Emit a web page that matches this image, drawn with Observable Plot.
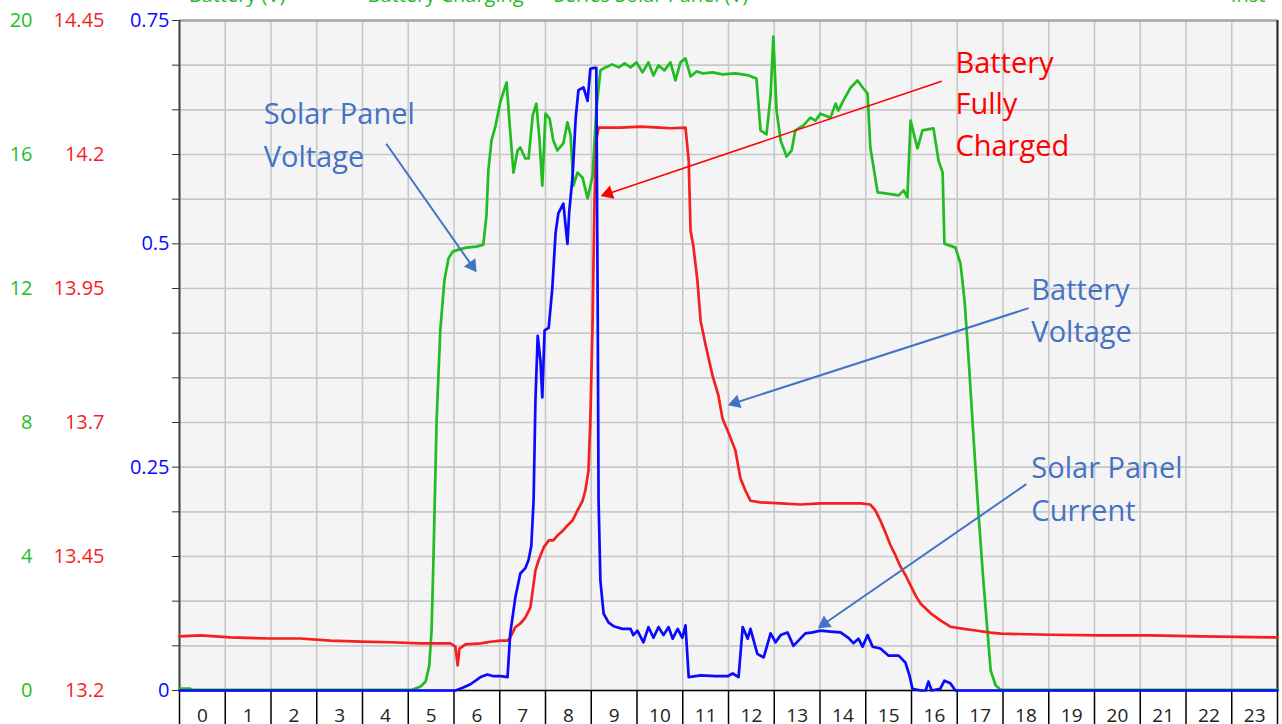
<!DOCTYPE html>
<html>
<head>
<meta charset="utf-8">
<script src="https://cdn.jsdelivr.net/npm/d3@7"></script>
<script src="https://cdn.jsdelivr.net/npm/@observablehq/plot@0.6"></script>
<style>
  html, body { margin: 0; padding: 0; background: #fff; overflow: hidden; }
  #chart svg { display: block; }
</style>
</head>
<body>
<div id="chart"></div>
<script>
// ---------- data ----------
// Solar panel voltage (V), green, left axis 0..20
const greenHours = [0,0.22,0.28,5.09,5.27,5.38,5.46,5.51,5.55,5.62,5.70,5.79,5.88,5.97,6.10,6.27,6.49,6.64,6.71,6.75,6.82,6.91,7.02,7.15,7.21,7.30,7.39,7.45,7.56,7.63,7.72,7.80,7.87,7.93,8.00,8.09,8.17,8.26,8.39,8.48,8.55,8.61,8.70,8.81,8.92,9.03,9.11,9.20,9.31,9.46,9.60,9.73,9.86,9.99,10.12,10.25,10.36,10.47,10.60,10.73,10.84,10.95,11.06,11.17,11.30,11.45,11.65,11.87,12.15,12.44,12.61,12.70,12.83,12.92,12.98,13.05,13.14,13.27,13.38,13.46,13.64,13.79,13.90,14.01,14.23,14.34,14.40,14.51,14.67,14.82,14.95,15.04,15.10,15.26,15.43,15.72,15.83,15.91,15.98,16.13,16.24,16.48,16.59,16.68,16.72,16.96,17.07,17.16,17.25,17.36,17.46,17.57,17.66,17.73,17.84,17.95,24];
const greenVolts = [0.06,0.06,0.02,0.02,0.12,0.27,0.75,1.79,3.88,8.06,10.75,12.24,12.90,13.10,13.16,13.22,13.25,13.31,14.18,15.52,16.42,16.87,17.61,18.15,17.01,15.46,16.12,16.21,15.88,15.88,17.16,17.52,16.42,15.07,17.22,17.07,16.42,16.12,16.33,16.96,16.57,15.07,15.46,15.31,14.69,15.37,17.31,18.51,18.60,18.69,18.60,18.72,18.60,18.75,18.45,18.75,18.36,18.66,18.51,18.75,18.21,18.75,18.87,18.33,18.48,18.42,18.45,18.39,18.42,18.36,18.27,16.72,16.60,17.76,19.52,17.31,16.42,15.94,16.12,16.72,16.87,17.10,17.01,17.22,17.10,17.52,17.31,17.61,18.00,18.21,17.97,17.82,16.21,14.87,14.84,14.78,14.93,14.72,17.01,16.18,16.72,16.78,15.82,15.46,13.34,13.22,12.75,11.64,9.85,7.46,5.37,3.28,1.79,0.60,0.15,0.02,0.02];

// Battery voltage (V), red, left axis 13.2..14.45
const redHours = [0,0.46,1.11,1.99,2.64,3.30,3.96,4.61,5.27,5.92,6.03,6.08,6.12,6.25,6.58,6.80,7.02,7.17,7.23,7.34,7.45,7.56,7.67,7.78,7.85,7.96,8.07,8.17,8.26,8.39,8.48,8.59,8.70,8.81,8.87,8.94,8.98,9.03,9.07,9.11,9.16,9.64,10.08,10.51,10.73,11.06,11.13,11.17,11.23,11.32,11.39,11.50,11.65,11.78,11.87,12.00,12.15,12.26,12.37,12.48,12.70,13.14,13.57,14.01,14.45,14.89,15.10,15.21,15.32,15.43,15.54,15.65,15.76,15.87,15.98,16.09,16.20,16.42,16.63,16.85,17.07,17.40,17.73,17.95,19.04,20.13,21.22,22.32,24];
const redVolts = [13.301,13.303,13.299,13.297,13.297,13.293,13.291,13.290,13.288,13.288,13.282,13.247,13.278,13.286,13.288,13.291,13.293,13.293,13.299,13.318,13.325,13.336,13.355,13.424,13.443,13.467,13.480,13.480,13.489,13.499,13.508,13.517,13.536,13.554,13.573,13.610,13.704,13.890,14.114,14.226,14.250,14.250,14.252,14.250,14.249,14.250,14.189,14.058,14.030,13.965,13.890,13.844,13.788,13.750,13.707,13.681,13.648,13.596,13.573,13.554,13.551,13.549,13.547,13.549,13.549,13.549,13.547,13.536,13.517,13.495,13.471,13.452,13.431,13.415,13.396,13.377,13.362,13.344,13.331,13.319,13.316,13.312,13.308,13.306,13.304,13.303,13.303,13.301,13.299];

// Solar panel current (A), blue, left axis 0..0.75
const blueHours = [0,6.03,6.19,6.36,6.58,6.73,6.86,7.02,7.17,7.23,7.34,7.45,7.56,7.63,7.69,7.74,7.78,7.83,7.89,7.93,7.98,8.07,8.15,8.22,8.28,8.39,8.48,8.52,8.59,8.66,8.72,8.83,8.92,8.98,9.07,9.11,9.14,9.16,9.20,9.27,9.38,9.49,9.68,9.86,9.92,10.01,10.14,10.25,10.36,10.47,10.58,10.69,10.78,10.89,10.99,11.06,11.13,11.39,11.72,11.98,12.09,12.22,12.31,12.42,12.48,12.63,12.77,12.92,13.03,13.14,13.29,13.42,13.57,13.68,13.84,14.01,14.23,14.45,14.62,14.73,14.84,14.93,15.04,15.15,15.32,15.50,15.72,15.87,15.96,16.02,16.20,16.31,16.37,16.44,16.63,16.72,16.85,16.96,24];
const blueAmps = [0,0,0.003,0.007,0.015,0.018,0.016,0.016,0.015,0.064,0.104,0.131,0.137,0.146,0.162,0.213,0.325,0.397,0.369,0.328,0.403,0.406,0.451,0.512,0.534,0.545,0.500,0.537,0.574,0.641,0.672,0.675,0.660,0.696,0.697,0.697,0.437,0.213,0.123,0.086,0.076,0.072,0.069,0.069,0.062,0.067,0.054,0.071,0.059,0.071,0.062,0.071,0.058,0.069,0.059,0.073,0.015,0.017,0.016,0.016,0.019,0.015,0.071,0.058,0.069,0.041,0.037,0.064,0.054,0.062,0.065,0.050,0.058,0.064,0.065,0.067,0.066,0.065,0.059,0.053,0.058,0.049,0.062,0.049,0.047,0.039,0.039,0.031,0.016,0.002,0,0,0.010,0,0.002,0.011,0.008,0,0];

// axes / ticks
const hourLabels = ["0","1","2","3","4","5","6","7","8","9","10","11","12","13","14","15","16","17","18","19","20","21","22","23"];
const hourGrid = [0,1,2,3,4,5,6,7,8,9,10,11,12,13,14,15,16,17,18,19,20,21,22,23,24];
const currentGrid = [0,0.05,0.1,0.15,0.2,0.25,0.3,0.35,0.4,0.45,0.5,0.55,0.6,0.65,0.7,0.75];
const currentTicks = [0,0.25,0.5,0.75];
const panelVoltTicks = [0,4,8,12,16,20];
const batteryVoltTicks = [13.2,13.45,13.7,13.95,14.2,14.45];

// annotations (hour, current-axis units)
const notes = [
  {text:"Solar Panel\nVoltage", x:1.84, y:0.625, color:"#4472c4", lh:1.48},
  {text:"Battery\nFully\nCharged", x:16.96, y:0.660, color:"#ff0000", lh:1.43},
  {text:"Battery\nVoltage", x:18.62, y:0.429, color:"#4472c4", lh:1.48},
  {text:"Solar Panel\nCurrent", x:18.62, y:0.229, color:"#4472c4", lh:1.48}
];
const arrows = [
  {x1:4.52, y1:0.612, x2:6.51, y2:0.467, color:"#4472c4", w:2},
  {x1:16.66, y1:0.682, x2:9.18, y2:0.553, color:"#ff0000", w:1.6},
  {x1:18.56, y1:0.428, x2:11.96, y2:0.319, color:"#4472c4", w:2},
  {x1:18.51, y1:0.231, x2:13.93, y2:0.069, color:"#4472c4", w:2}
];
const legendItems = [
  {text:"Battery (V)", x:0.2},
  {text:"Battery Charging", x:4.11},
  {text:"Series Solar Panel (V)", x:8.18},
  {text:"Inst", x:22.98}
];

// ---------- colours / layout ----------
const GREEN = "#1fbd1f", RED = "#f51f1f", BLUE = "#0a0aff";
const W = 1282, H = 724, ML = 179, MR = 5, MT = 20, MB = 34;
const pxPerHour = (W - ML - MR) / 24;
const pxPerUnit = (H - MT - MB) / 0.75;

// unit conversions onto the shared (current) axis
const panelToAxis = v => v * 0.75 / 20;
const batteryToAxis = v => (v - 13.2) * 0.75 / 1.25;

const green = greenHours.map((h, i) => ({h, v: panelToAxis(greenVolts[i])}));
const red = redHours.map((h, i) => ({h, v: batteryToAxis(redVolts[i])}));
const blue = blueHours.map((h, i) => ({h, v: blueAmps[i]}));

// arrow geometry: filled triangular heads (tip at x2,y2)
const HEAD = 14; // head length px
const arrowGeo = arrows.map(a => {
  const dx = (a.x2 - a.x1) * pxPerHour, dy = -(a.y2 - a.y1) * pxPerUnit;
  const len = Math.hypot(dx, dy), ux = dx / len, uy = dy / len;
  const ang = Math.atan2(dy, dx) * 180 / Math.PI + 90;
  const cOff = HEAD * 2 / 3, lOff = HEAD * 0.8;
  return {
    ...a, rot: ang,
    cx: a.x2 - ux * cOff / pxPerHour, cy: a.y2 + uy * cOff / pxPerUnit,
    lx: a.x2 - ux * lOff / pxPerHour, ly: a.y2 + uy * lOff / pxPerUnit
  };
});

const chart = Plot.plot({
  width: W,
  height: H,
  marginLeft: ML,
  marginRight: MR,
  marginTop: MT,
  marginBottom: MB,
  x: {domain: [0, 24]},
  y: {domain: [0, 0.75]},
  style: {background: "#ffffff", fontFamily: "'Open Sans', sans-serif", fontSize: "20px"},
  marks: [
    Plot.frame({fill: "#f4f4f4", stroke: null}),
    Plot.gridX(hourGrid, {stroke: "#c8c8c8", strokeOpacity: 1, strokeWidth: 1.6}),
    Plot.gridY(currentGrid, {stroke: "#c8c8c8", strokeOpacity: 1, strokeWidth: 1.6}),
    Plot.ruleY([0.75], {stroke: "#a6a6a6", strokeWidth: 2.5}),
    Plot.ruleX([24], {stroke: "#222", strokeWidth: 2}),
    Plot.ruleX([0], {stroke: "#444", strokeWidth: 2}),
    Plot.ruleY([0], {stroke: "#000", strokeWidth: 1.5}),
    // bottom hour boxes
    Plot.axisX(hourGrid, {anchor: "bottom", tickSize: 34, tickFormat: () => "", stroke: "#000", strokeWidth: 1.5, label: null}),
    Plot.axisX(hourLabels.map((_, i) => i + 0.5), {anchor: "bottom", tickSize: 0, tickPadding: 18, tickFormat: d => hourLabels[Math.floor(d)], fill: "#222", fontSize: 19, label: null}),
    // left axes
    Plot.axisY(currentGrid, {anchor: "left", tickSize: 7, tickFormat: () => "", stroke: "#333", label: null}),
    Plot.axisY(currentTicks, {anchor: "left", tickSize: 0, tickPadding: 10, tickFormat: d => String(d), fill: BLUE, fontSize: 20, label: null}),
    Plot.axisY(panelVoltTicks.map(panelToAxis), {anchor: "left", tickSize: 0, tickPadding: 147, tickFormat: (d) => String(Math.round(d * 20 / 0.75)), fill: GREEN, fontSize: 20, label: null}),
    Plot.axisY(batteryVoltTicks.map(batteryToAxis), {anchor: "left", tickSize: 0, tickPadding: 75, tickFormat: (d) => String(+(13.2 + d * 1.25 / 0.75).toFixed(2)), fill: RED, fontSize: 20, label: null}),
    // series
    Plot.line(green, {x: "h", y: "v", stroke: GREEN, strokeWidth: 2.7, curve: "linear", strokeLinejoin: "round"}),
    Plot.line(red, {x: "h", y: "v", stroke: RED, strokeWidth: 2.7, curve: "linear", strokeLinejoin: "round"}),
    Plot.line(blue, {x: "h", y: "v", stroke: BLUE, strokeWidth: 2.7, curve: "linear", strokeLinejoin: "round"}),
    // annotation arrows
    Plot.link(arrowGeo, {x1: "x1", y1: "y1", x2: "lx", y2: "ly", stroke: d => d.color, strokeWidth: d => d.w}),
    Plot.dot(arrowGeo, {x: "cx", y: "cy", symbol: "triangle", r: 5.2, rotate: "rot", fill: d => d.color, stroke: "none"}),
    ...notes.map(n => Plot.text([n], {x: "x", y: "y", text: "text", fill: n.color, fontSize: 29, textAnchor: "start", lineAnchor: "middle", lineHeight: n.lh})),
    // clipped legend at top
    Plot.text(legendItems, {x: "x", y: () => 0.75, text: "text", fill: GREEN, fontSize: 20, textAnchor: "start", lineAnchor: "bottom", dy: -19})
  ]
});
document.getElementById("chart").appendChild(chart);
</script>
</body>
</html>
